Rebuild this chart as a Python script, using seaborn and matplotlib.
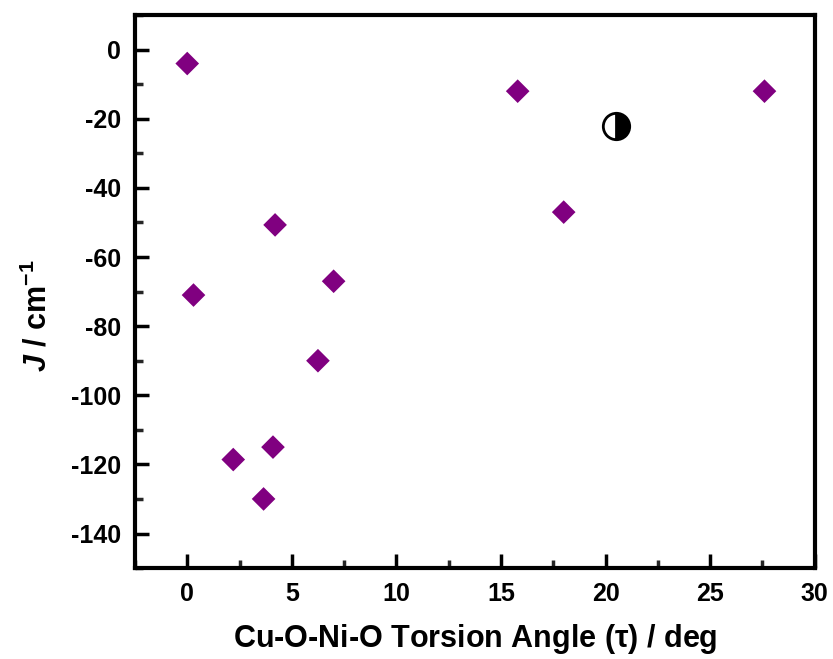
import matplotlib
matplotlib.use("Agg")
import matplotlib.pyplot as plt
import seaborn as sns
import pandas as pd
from matplotlib.ticker import MultipleLocator

# data
torsion = [0.0, 0.3, 2.2, 3.65, 4.1, 4.2, 6.25, 7.0, 15.8, 18.0, 27.6]
J_vals = [-4, -71, -118.6, -130, -115, -50.7, -90, -67, -12, -47, -12]
special_x = [20.5]
special_y = [-22]

df = pd.DataFrame({"tau": torsion, "J": J_vals})

sns.set_theme(style="white")
plt.rcParams['font.family'] = ['Liberation Sans', 'DejaVu Sans']
plt.rcParams['axes.unicode_minus'] = False
plt.rcParams['mathtext.fontset'] = 'custom'
plt.rcParams['mathtext.rm'] = 'Liberation Sans:bold'
plt.rcParams['mathtext.it'] = 'Liberation Sans:bold:italic'
plt.rcParams['mathtext.bf'] = 'Liberation Sans:bold'

fig = plt.figure(figsize=(8.33, 6.59), dpi=100)
ax = fig.add_axes([0.162, 0.138, 0.816, 0.839])

sns.scatterplot(data=df, x="tau", y="J", marker="D", s=145, color="#800080",
                edgecolor="none", linewidth=0, ax=ax, zorder=3)
ax.plot(special_x, special_y, linestyle="none", marker="o", markersize=19,
        fillstyle="right", markerfacecolor="black", markerfacecoloralt="white",
        markeredgecolor="black", markeredgewidth=2, zorder=4)

ax.set_xlim(-2.5, 30)
ax.set_ylim(-150, 10)
ax.xaxis.set_major_locator(MultipleLocator(5))
ax.xaxis.set_minor_locator(MultipleLocator(2.5))
ax.set_yticks(range(-140, 1, 20))
ax.yaxis.set_minor_locator(MultipleLocator(10))

for s in ax.spines.values():
    s.set_linewidth(3)
    s.set_color("black")

ax.tick_params(axis="both", which="major", direction="in", length=10, width=2.5,
               labelsize=18, colors="black", bottom=True, left=True, top=False, right=False)
ax.tick_params(axis="x", which="major", pad=10)
ax.tick_params(axis="y", which="major", pad=10)
ax.tick_params(axis="both", which="minor", direction="in", length=6, width=2.5,
               bottom=True, left=True, top=False, right=False)
for lab in ax.get_xticklabels() + ax.get_yticklabels():
    lab.set_fontweight("bold")

ax.set_xlabel(r"Cu-O-Ni-O Torsion Angle ($\mathregular{\tau}$) / deg", fontsize=22,
              fontweight="bold", color="black", va="center")
ax.xaxis.set_label_coords(0.5, -0.128)
ax.set_ylabel(r"$\mathit{J}$ / cm$^{\mathbf{-1}}$", fontsize=22, fontweight="bold",
              color="black", va="center", ha="center")
ax.yaxis.set_label_coords(-0.143, 0.457)
ax.grid(False)

fig.savefig("out.png", dpi=100, facecolor="white")
